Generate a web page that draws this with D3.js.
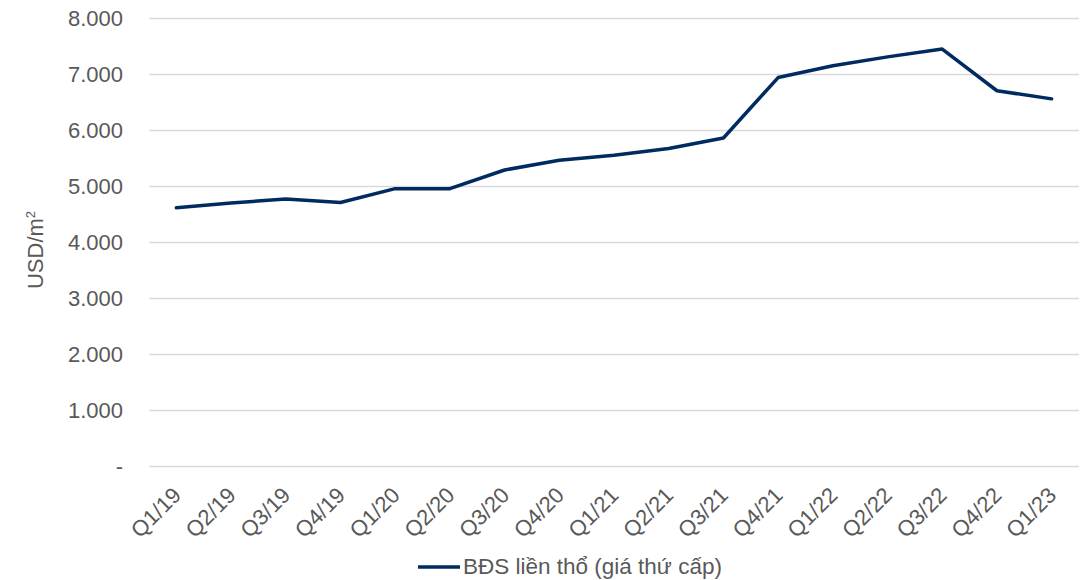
<!DOCTYPE html>
<html><head><meta charset="utf-8">
<script src="https://cdn.jsdelivr.net/npm/d3@7"></script>
<style>body{margin:0;background:#fff;} svg{display:block;font-family:"Liberation Sans",Arial,sans-serif;}</style>
</head><body>
<svg id="c" width="1081" height="580"></svg>
<script>
const categories = ["Q1/19","Q2/19","Q3/19","Q4/19","Q1/20","Q2/20","Q3/20","Q4/20","Q1/21","Q2/21","Q3/21","Q4/21","Q1/22","Q2/22","Q3/22","Q4/22","Q1/23"];
const values = [4620,4705,4777,4715,4962,4962,5295,5470,5560,5680,5866,6945,7155,7315,7455,6710,6565];
const seriesName = "BĐS liền thổ (giá thứ cấp)";
const yTicks = [0,1000,2000,3000,4000,5000,6000,7000,8000];
const yTickLabels = ["-","1.000","2.000","3.000","4.000","5.000","6.000","7.000","8.000"];

(function(){
const svg = d3.select("#c");
const mLeft = 149, mRight = 1079, mTop = 18.5, mBottom = 466.5;
const fs = "22px";
const x = d3.scaleBand().domain(categories).range([mLeft, mRight]);
const y = d3.scaleLinear().domain([0, 8000]).range([mBottom, mTop]);

// gridlines
svg.append("g").selectAll("line").data(yTicks).join("line")
  .attr("x1", mLeft).attr("x2", mRight)
  .attr("y1", d => y(d)).attr("y2", d => y(d))
  .attr("stroke", "#d9d9d9").attr("stroke-width", 1.3);

// y axis labels
const yAxis = d3.axisLeft(y).tickValues(yTicks).tickFormat((d,i) => yTickLabels[i]).tickSize(0).tickPadding(26);
const gy = svg.append("g").attr("transform", `translate(${mLeft},0)`).call(yAxis);
gy.select(".domain").remove();
gy.selectAll("text").attr("fill", "#595959").style("font-size", fs).style("font-family", "Liberation Sans, Arial, sans-serif");

// x axis labels
const xAxis = d3.axisBottom(x).tickSize(0).tickPadding(0);
const gx = svg.append("g").attr("transform", `translate(0,${mBottom})`).call(xAxis);
gx.select(".domain").remove();
gx.selectAll("text")
  .attr("fill", "#595959").style("font-size", fs).style("font-family", "Liberation Sans, Arial, sans-serif")
  .attr("text-anchor", "end").attr("dy", null).attr("y", 0)
  .attr("transform", "translate(6,30) rotate(-45)");

// y title
svg.append("text")
  .attr("transform", "translate(43,250) rotate(-90)")
  .attr("text-anchor", "middle").attr("fill", "#595959")
  .style("font-size", fs)
  .html('USD/m<tspan dy="-8" font-size="13px">2</tspan>');

// line
const line = d3.line().x((d,i) => x(categories[i]) + x.bandwidth()/2).y(d => y(d));
svg.append("path").datum(values).attr("d", line)
  .attr("fill", "none").attr("stroke", "#002b60").attr("stroke-width", 3.5)
  .attr("stroke-linejoin", "round").attr("stroke-linecap", "round");

// legend
const lg = svg.append("g");
lg.append("line").attr("x1", 418).attr("x2", 460).attr("y1", 567).attr("y2", 567)
  .attr("stroke", "#002b60").attr("stroke-width", 3.5);
lg.append("text").attr("x", 463).attr("y", 574).attr("fill", "#595959")
  .style("font-size", "22.5px").text(seriesName);
})();
</script>
</body></html>
